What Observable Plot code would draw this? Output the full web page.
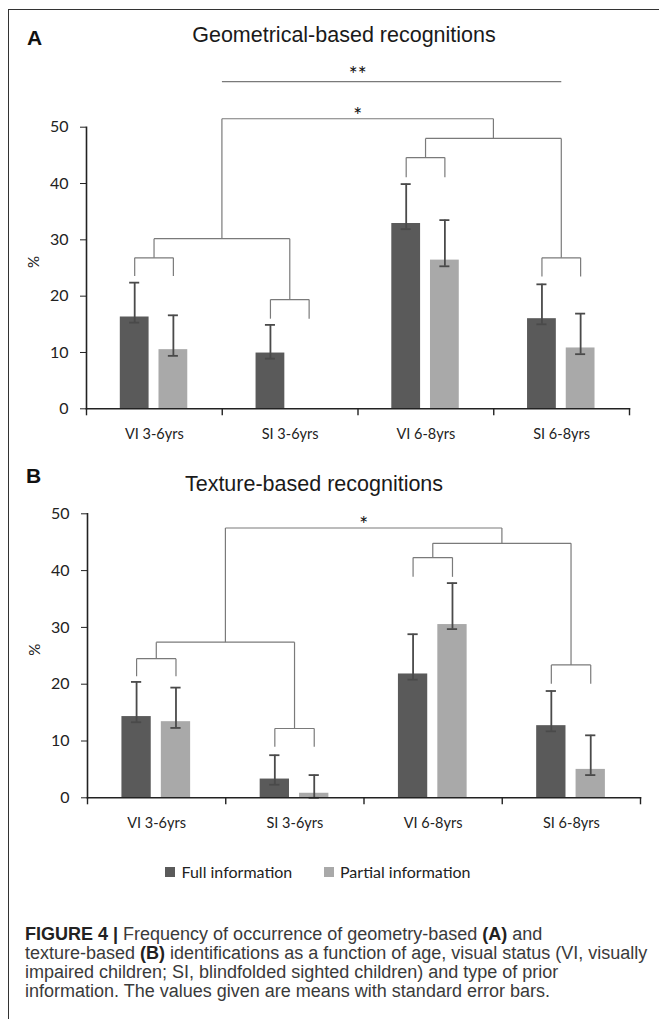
<!DOCTYPE html>
<html>
<head>
<meta charset="utf-8">
<script src="https://cdn.jsdelivr.net/npm/d3@7"></script>
<script src="https://cdn.jsdelivr.net/npm/@observablehq/plot@0.6"></script>
<style>
  html, body { margin: 0; padding: 0; background: #fff; }
  #page { position: relative; width: 659px; height: 1024px; overflow: hidden; background: #fff; }
  .abs { position: absolute; white-space: nowrap; }
  .frame { position: absolute; left: 8px; top: 9px; width: 660px; height: 1009px;
           border-left: 1.5px solid #333; border-top: 1.5px solid #333; }
  .panel-letter { font-family: "Liberation Sans", Arial, sans-serif; font-weight: bold; font-size: 21px; line-height: 21px; color: #111; }
  .title { font-family: "Liberation Sans", Arial, sans-serif; font-size: 21.5px; line-height: 21.5px; color: #1a1a1a; text-align: center; width: 600px; }
  .legend { font-family: Lato, "Open Sans", sans-serif; font-size: 16px; line-height: 16px; color: #222; }
  .swatch { position: absolute; width: 10px; height: 10px; }
  .caption { font-family: "Liberation Sans", Arial, sans-serif; font-size: 18px; line-height: 19px; color: #3a3a3a; }
  .caption b { color: #222; }
</style>
</head>
<body>
<div id="page">
  <div class="frame"></div>
  <div class="abs panel-letter" style="left:27px; top:27px;">A</div>
  <div class="abs title" style="left:44px; top:25px;">Geometrical-based recognitions</div>
  <div id="chartA" class="abs" style="left:0; top:50px;"></div>
  <div class="abs panel-letter" style="left:26px; top:465px;">B</div>
  <div class="abs title" style="left:14px; top:473.5px;">Texture-based recognitions</div>
  <div id="chartB" class="abs" style="left:0; top:455px;"></div>
  <div id="legend"></div>
  <div class="abs caption" style="left:25px; top:925px;">
    <b>FIGURE 4 |</b> Frequency of occurrence of geometry-based <b>(A)</b> and<br>
    texture-based <b>(B)</b> identifications as a function of age, visual status (VI, visually<br>
    impaired children; SI, blindfolded sighted children) and type of prior<br>
    information. The values given are means with standard error bars.
  </div>
</div>
<script>
// ---------- data ----------
const categories = ["VI 3-6yrs", "SI 3-6yrs", "VI 6-8yrs", "SI 6-8yrs"];
const seriesNames = ["Full information", "Partial information"];
const yTicks = [0, 10, 20, 30, 40, 50];

// Panel A: geometrical-based recognitions (%)
const geoFull        = [16.3, 9.9, 32.9, 16.0];
const geoFullHigh    = [22.4, 14.9, 39.9, 22.1];
const geoFullLow     = [15.3, 8.9, 31.9, 15.0];
const geoPartial     = [10.5, 0, 26.4, 10.8];
const geoPartialHigh = [16.6, null, 33.5, 16.9];
const geoPartialLow  = [9.4, null, 25.3, 9.7];

// Panel B: texture-based recognitions (%)
const texFull        = [14.3, 3.3, 21.8, 12.7];
const texFullHigh    = [20.4, 7.5, 28.8, 18.8];
const texFullLow     = [13.3, 2.3, 20.8, 11.7];
const texPartial     = [13.4, 0.8, 30.5, 5.0];
const texPartialHigh = [19.4, 4.0, 37.8, 11.0];
const texPartialLow  = [12.3, 0.0, 29.7, 4.0];

// Significance brackets (heights in % units)
const geoPairTop = [26.8, 19.4, 44.6, 26.8];
const geoPairLeg = [23.6, 16.0, 41.1, 23.5];
const geoJoin    = [30.2, 48.0];
const geoTopJoin = 51.5;
const geoStarY   = 53.0;
const geoWideY   = 58.1;
const geoWideStarY = 60.2;
const geoStars = ["*", "**"];

const texPairTop = [24.5, 12.2, 42.3, 23.4];
const texPairLeg = [21.4, 9.0, 38.9, 20.1];
const texJoin    = [27.4, 44.8];
const texTopJoin = 47.5;
const texStarY   = 49.0;
const texStars = ["*"];

// ---------- styles / layout ----------
const darkGray = "#5a5a5a";
const lightGray = "#a9a9a9";
const errColor = "#4a4a4a";
const bracketColor = "#7a7a7a";
const offsets = [-0.145, 0.14];   // bar centre offsets within a category (category units)
const halfBar = 0.106;
const capHalf = 0.037;

function buildBars(full, fullHi, fullLo, part, partHi, partLo) {
  return categories.flatMap((c, i) => [
    {cat: c, series: seriesNames[0], xc: i + offsets[0], value: full[i], hi: fullHi[i], lo: fullLo[i]},
    {cat: c, series: seriesNames[1], xc: i + offsets[1], value: part[i], hi: partHi[i], lo: partLo[i]}
  ]);
}

function buildBrackets(pairTop, pairLeg, join, topJoin, wideY) {
  const segs = [];
  const centers = categories.map((c, i) => i + (offsets[0] + offsets[1]) / 2);
  categories.forEach((c, i) => {
    const lx = i + offsets[0], rx = i + offsets[1];
    segs.push({x1: lx, y1: pairLeg[i], x2: lx, y2: pairTop[i]});
    segs.push({x1: lx, y1: pairTop[i], x2: rx, y2: pairTop[i]});
    segs.push({x1: rx, y1: pairTop[i], x2: rx, y2: pairLeg[i]});
  });
  const mids = join.map((y, k) => {
    const a = centers[2 * k], b = centers[2 * k + 1];
    segs.push({x1: a, y1: pairTop[2 * k], x2: a, y2: y});
    segs.push({x1: a, y1: y, x2: b, y2: y});
    segs.push({x1: b, y1: y, x2: b, y2: pairTop[2 * k + 1]});
    return (a + b) / 2;
  });
  segs.push({x1: mids[0], y1: join[0], x2: mids[0], y2: topJoin});
  segs.push({x1: mids[0], y1: topJoin, x2: mids[1], y2: topJoin});
  segs.push({x1: mids[1], y1: topJoin, x2: mids[1], y2: join[1]});
  if (wideY != null) segs.push({x1: mids[0], y1: wideY, x2: centers[3], y2: wideY});
  return {segs, starX: (mids[0] + mids[1]) / 2};
}

function panel({bars, brackets, stars, marginTop, marginBottom, marginLeft, marginRight, height}) {
  const boundaries = [-0.5, ...categories.map((c, i) => i + 0.5)];
  return Plot.plot({
    width: 659, height, marginTop, marginBottom, marginLeft, marginRight,
    style: {fontFamily: "Lato, 'Open Sans', sans-serif", fontSize: "16px", color: "#222", background: "transparent", overflow: "visible"},
    x: {type: "linear", domain: [-0.5, categories.length - 0.5]},
    y: {domain: [0, 50]},
    color: {domain: seriesNames, range: [darkGray, lightGray]},
    marks: [
      Plot.rect(bars, {x1: d => d.xc - halfBar, x2: d => d.xc + halfBar, y1: () => 0, y2: "value", fill: "series"}),
      Plot.ruleX(bars, {x: "xc", y1: "lo", y2: "hi", stroke: errColor, strokeWidth: 1.8}),
      Plot.ruleY(bars, {y: "hi", x1: d => d.xc - capHalf, x2: d => d.xc + capHalf, stroke: errColor, strokeWidth: 1.8}),
      Plot.ruleY(bars, {y: "lo", x1: d => d.xc - capHalf, x2: d => d.xc + capHalf, stroke: errColor, strokeWidth: 1.8}),
      Plot.link(brackets.segs, {x1: "x1", y1: "y1", x2: "x2", y2: "y2", stroke: bracketColor, strokeWidth: 1.2}),
      Plot.text(stars, {x: () => brackets.starX, y: "y", text: "t", fontSize: 21, dy: 6, fill: "#111"}),
      Plot.frame({anchor: "left", stroke: "#222", strokeWidth: 1.6}),
      Plot.frame({anchor: "bottom", stroke: "#222", strokeWidth: 1.6}),
      Plot.axisY({ticks: yTicks, tickSize: 6, tickPadding: 12, label: null, fontSize: 16, stroke: "#222"}),
      Plot.axisX({ticks: boundaries, tickFormat: () => "", tickSize: 7, label: null, stroke: "#222", strokeWidth: 1.4}),
      Plot.axisX({ticks: categories.map((c, i) => i), tickFormat: i => categories[i], tickSize: 0, tickPadding: 20, label: null, fontSize: 14.5}),
      Plot.text(["%"], {frameAnchor: "left", rotate: -90, dx: -52, fontSize: 15, fill: "#222"})
    ]
  });
}

const barsA = buildBars(geoFull, geoFullHigh, geoFullLow, geoPartial, geoPartialHigh, geoPartialLow);
const brA = buildBrackets(geoPairTop, geoPairLeg, geoJoin, geoTopJoin, geoWideY);
const starsA = [{t: geoStars[0], y: geoStarY}, {t: geoStars[1], y: geoWideStarY}];
document.getElementById("chartA").append(panel({
  bars: barsA, brackets: brA, stars: starsA,
  height: 400, marginTop: 76.7, marginBottom: 41.7, marginLeft: 86, marginRight: 30
}));

const barsB = buildBars(texFull, texFullHigh, texFullLow, texPartial, texPartialHigh, texPartialLow);
const brB = buildBrackets(texPairTop, texPairLeg, texJoin, texTopJoin, null);
const starsB = [{t: texStars[0], y: texStarY}];
document.getElementById("chartB").append(panel({
  bars: barsB, brackets: brB, stars: starsB,
  height: 380, marginTop: 58.3, marginBottom: 37.7, marginLeft: 87, marginRight: 19
}));

// legend
const legend = document.getElementById("legend");
const legendPos = [{sw: 165, tx: 181.5}, {sw: 324, tx: 340}];
seriesNames.forEach((name, i) => {
  const sw = document.createElement("div");
  sw.className = "swatch";
  sw.style.left = legendPos[i].sw + "px";
  sw.style.top = "866.7px";
  sw.style.background = [darkGray, lightGray][i];
  legend.append(sw);
  const t = document.createElement("div");
  t.className = "abs legend";
  t.style.left = legendPos[i].tx + "px";
  t.style.top = "863.5px";
  t.textContent = name;
  legend.append(t);
});
</script>
</body>
</html>
